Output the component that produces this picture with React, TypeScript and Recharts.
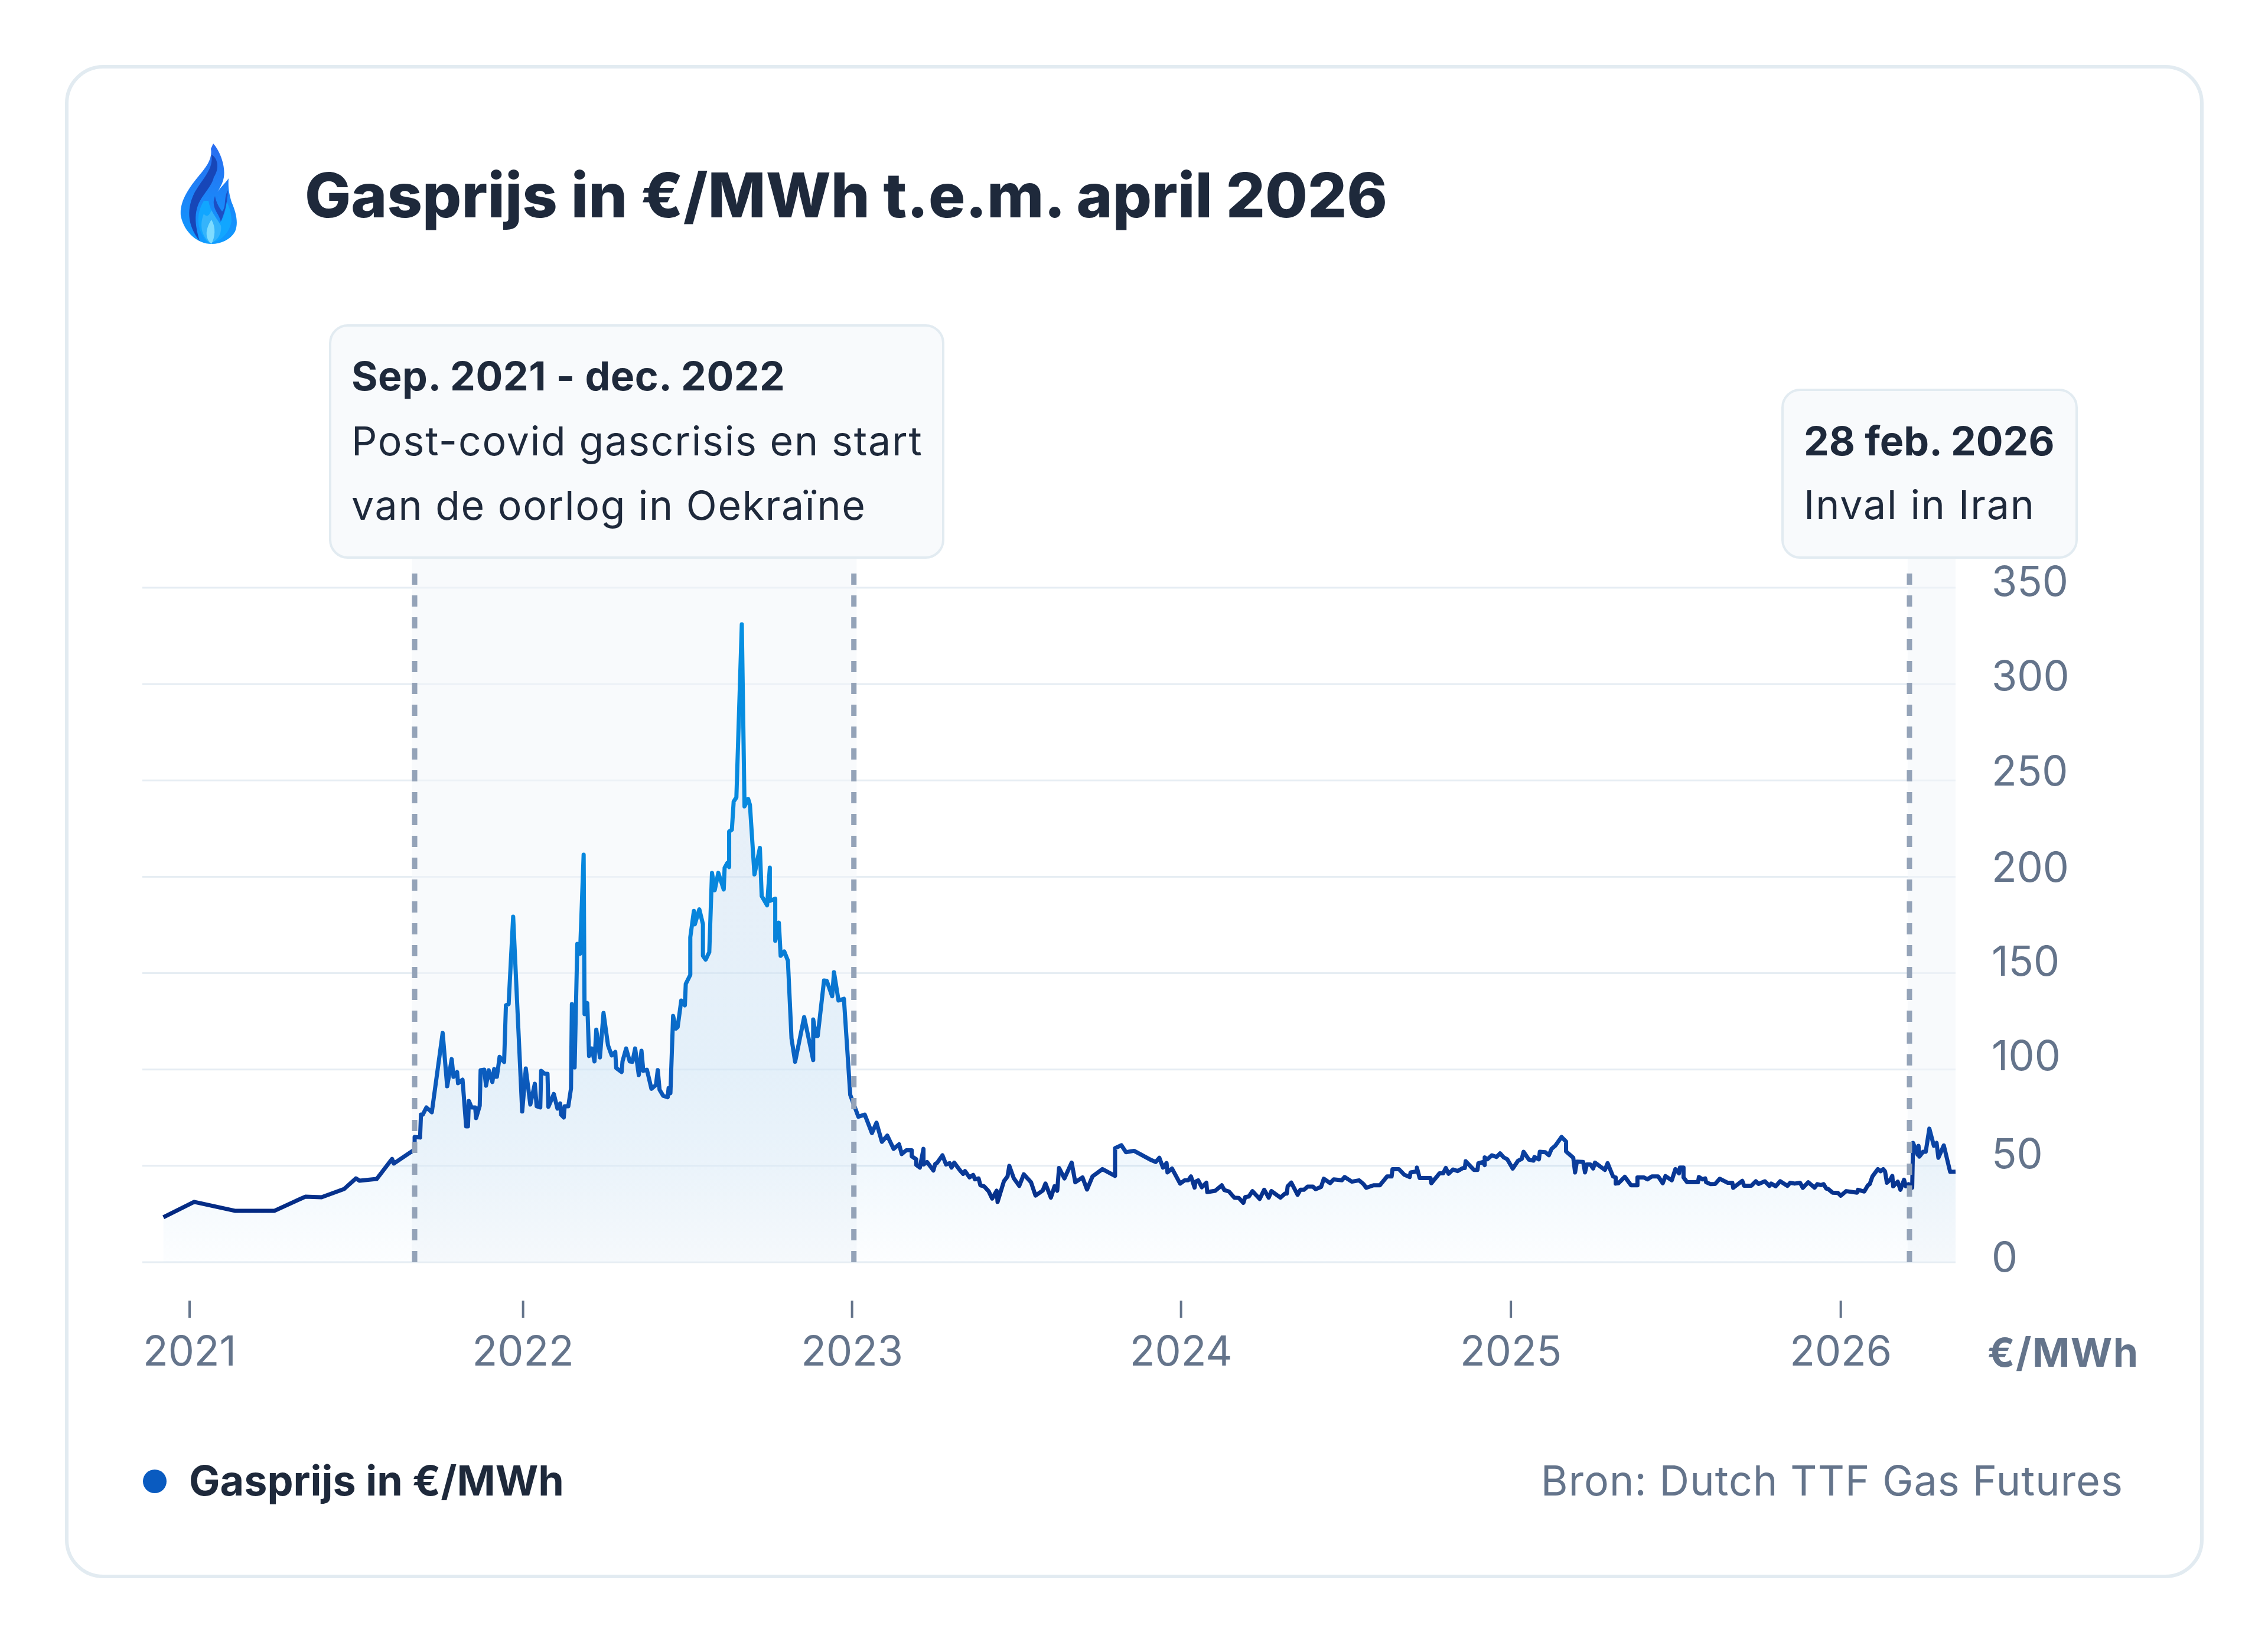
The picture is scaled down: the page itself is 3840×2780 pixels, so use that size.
import {
  ComposedChart, Area, XAxis, YAxis, CartesianGrid, ReferenceArea, ReferenceLine,
} from 'recharts'

// days since 1 Jan 2021
const days = [
  -29, 5, 50, 94, 128, 146, 171, 184, 188, 207, 224, 226, 249, 249, 255,
  256, 258, 262, 268, 280, 285, 290, 292, 296, 297, 302, 306, 308, 309, 312,
  316, 317, 321, 322, 326, 328, 331, 335, 337, 339, 340, 343, 348, 350, 353,
  358, 368, 372, 377, 382, 384, 388, 389, 393, 396, 397, 403, 407, 410, 411,
  414, 415, 419, 422, 423, 426, 429, 432, 436, 437, 440, 442, 445, 448, 450,
  454, 458, 463, 467, 471, 472, 478, 479, 483, 487, 490, 493, 497, 500, 502,
  506, 511, 516, 518, 520, 524, 529, 530, 532, 535, 538, 540, 544, 548, 549,
  554, 554, 558, 559, 564, 568, 568, 571, 575, 578, 581, 585, 591, 592, 595,
  597, 597, 600, 602, 605, 611, 614, 618, 620, 625, 631, 633, 639, 642, 642,
  648, 648, 652, 654, 658, 662, 666, 670, 680, 690, 690, 693, 695, 702, 705,
  711, 713, 718, 724, 731, 740, 747, 755, 760, 766, 772, 779, 785, 788, 793,
  799, 799, 804, 804, 808, 812, 812, 816, 823, 825, 827, 833, 837, 841, 843,
  846, 853, 856, 858, 863, 867, 869, 873, 875, 879, 884, 888, 893, 894, 901,
  905, 907, 912, 918, 923, 931, 936, 944, 947, 953, 957, 960, 962, 968, 976,
  980, 988, 993, 999, 1010, 1024, 1024, 1031, 1036, 1045, 1064, 1069, 1073, 1077, 1081,
  1082, 1087, 1096, 1101, 1105, 1108, 1112, 1113, 1116, 1120, 1125, 1126, 1135, 1142, 1145,
  1150, 1156, 1161, 1166, 1168, 1172, 1176, 1184, 1189, 1194, 1197, 1207, 1212, 1214, 1215,
  1219, 1226, 1229, 1233, 1237, 1243, 1246, 1252, 1255, 1262, 1266, 1275, 1278, 1286, 1294,
  1299, 1302, 1310, 1317, 1325, 1330, 1331, 1338, 1344, 1350, 1351, 1358, 1358, 1361, 1373,
  1374, 1383, 1387, 1390, 1393, 1398, 1403, 1409, 1411, 1412, 1421, 1425, 1426, 1431, 1433,
  1433, 1436, 1441, 1446, 1450, 1454, 1458, 1464, 1470, 1474, 1476, 1482, 1487, 1488, 1493,
  1494, 1500, 1504, 1507, 1511, 1518, 1523, 1523, 1531, 1533, 1535, 1542, 1544, 1546, 1550,
  1553, 1555, 1566, 1569, 1575, 1578, 1578, 1581, 1588, 1595, 1602, 1602, 1609, 1613, 1618,
  1625, 1630, 1633, 1640, 1644, 1648, 1649, 1653, 1653, 1657, 1669, 1670, 1674, 1677, 1678,
  1683, 1688, 1693, 1702, 1707, 1708, 1718, 1720, 1728, 1733, 1736, 1743, 1748, 1750, 1755,
  1760, 1768, 1771, 1776, 1782, 1785, 1791, 1798, 1801, 1805, 1808, 1811, 1813, 1818, 1824,
  1827, 1833, 1845, 1846, 1853, 1857, 1859, 1862, 1868, 1871, 1874, 1876, 1878, 1882, 1884,
  1885, 1890, 1893, 1897, 1899, 1902, 1906, 1907, 1912, 1913, 1914, 1918, 1921, 1925, 1930,
  1933, 1935, 1941, 1948, 1954,
]

// €/MWh, same order as days
const prices = [
  23.3, 31.3, 26.7, 26.7, 34, 33.7, 38, 43.5, 42.3, 43.2, 53.6, 51.2, 58.5, 65, 64.7,
  76.6, 76.6, 80.3, 77.8, 119, 91.3, 105.4, 96.2, 98.7, 92.9, 94.7, 70.5, 70.5, 83.7, 80.3,
  80.3, 74.8, 81.2, 99.6, 99.9, 91.6, 99.6, 93.5, 100.2, 96.2, 96.2, 106.6, 103.9, 133.3, 133.9,
  179.3, 78.2, 100.5, 81.8, 92.6, 80.9, 80.3, 99.3, 97.8, 97.8, 80.6, 87.3, 79.7, 82.4, 76.6,
  75.1, 80.9, 80.9, 90.1, 133.9, 101.1, 165.2, 160, 211.5, 128.7, 134.5, 107, 110.9, 104.2, 120.7,
  106.3, 129.3, 112.5, 107.3, 109.1, 100.8, 98.7, 104.2, 110.9, 104.2, 104, 110.9, 97.1, 109.7, 99.3,
  99.9, 90, 92, 99.7, 89.5, 86.4, 85.6, 90.3, 87.7, 127.8, 121.2, 122, 135.8, 133.3, 144.4,
  149.1, 168.6, 182.3, 175.3, 183.1, 175.4, 159, 157, 160.9, 202, 193, 202, 193.4, 204.7, 207.2,
  205, 223.5, 224.4, 239, 241.2, 331, 236.5, 240.4, 237.3, 201.2, 215, 190, 185.2, 204.7, 187.5,
  188.6, 166.8, 176.2, 159, 161.2, 156.5, 116.1, 104, 127.2, 104.9, 126, 117.4, 117.4, 146.2, 146,
  138, 150.5, 135.8, 136.7, 86.8, 75.5, 76.6, 67, 72.4, 62.5, 65.7, 58.8, 61.2, 56.1, 58.1,
  58.1, 55, 53.4, 50.5, 49.1, 58.8, 50.7, 52, 47.6, 51, 51.5, 55.5, 50.7, 51.4, 49.1,
  51.7, 47.3, 45.8, 47.3, 44, 45.3, 43, 43.5, 39.9, 39.4, 36.9, 33, 37.1, 31.3, 42,
  44.5, 50, 43.5, 39.6, 45.6, 41.5, 34.6, 37.2, 40.8, 33.5, 39.4, 37.1, 48.9, 43.5, 51.7,
  41.5, 44, 37.7, 44.5, 48.3, 44.8, 59.2, 60.7, 57.1, 57.8, 53, 52, 54.2, 49.1, 51.4,
  46.6, 48.6, 40.8, 42.5, 42.5, 44.5, 38.7, 41.8, 42.5, 38.9, 41.2, 36.4, 37.1, 39.9, 37.4,
  36.7, 33.5, 33.3, 30.8, 33.8, 34.1, 36.9, 32.8, 37.6, 33.5, 36.9, 33.5, 35.6, 35.6, 39.4,
  41.3, 35, 37.6, 37.6, 39.2, 39.2, 37.9, 39.1, 43.3, 41, 43, 42.5, 44.2, 41.8, 42.5,
  40.5, 38.6, 39.9, 39.9, 44.5, 44.5, 48.3, 48.3, 45.4, 44.2, 46.6, 47.1, 49.1, 43.7, 43.7,
  41, 46.1, 46.1, 48.9, 45.9, 48.1, 47.3, 48.9, 48.9, 52.4, 47.9, 47.9, 51.4, 52, 50.4,
  54.4, 53.4, 55.5, 54.6, 56.5, 54.4, 53.4, 48.6, 52.7, 53.6, 57.3, 53.2, 52.7, 54.6, 53.4,
  57.3, 57.1, 55.5, 58.8, 60.4, 65, 62.6, 57.5, 54.2, 46.6, 52.2, 52, 46.6, 50.7, 50.7,
  48.6, 51.7, 47.9, 51.4, 44.5, 44, 40.8, 41, 44.3, 39.9, 39.9, 44, 44, 43, 44.5,
  44.5, 41, 44.7, 42.5, 48.3, 46.1, 49.1, 49.1, 44, 41.5, 41.5, 44.2, 43, 43.5, 41.5,
  40.5, 40.6, 43.3, 41.2, 41.2, 38.6, 42.2, 39.7, 39.7, 42, 40.6, 42, 39.6, 40.8, 39.4,
  42, 39.6, 41.2, 40.8, 41.2, 38.6, 41.5, 38.7, 40.5, 40, 40.5, 38.2, 38, 36.1, 35.9,
  34.5, 36.9, 36.1, 37.6, 36.7, 39.9, 40.5, 44.5, 48.3, 47.2, 48.3, 47.1, 41.2, 43, 44.8,
  39.4, 41.8, 37.6, 42.8, 39.4, 40.5, 38.7, 61.9, 55.8, 60.4, 54.8, 57.3, 57.3, 69.3, 60.4,
  61.9, 54.2, 60.6, 46.9, 47,
]

const yearTicks = [0, 369, 733, 1097, 1462, 1827]
const yearLabels = ['2021', '2022', '2023', '2024', '2025', '2026']
const priceTicks = [0, 50, 100, 150, 200, 250, 300, 350]

// shaded periods and event markers, in days
const periods = [[246, 738], [1901, 1954]]
const eventDays = [249, 735, 1903]

const data = days.map((day, i) => ({ day, price: prices[i] }))

const FONT = 'Inter, "Noto Sans", sans-serif'
const DARK = '#1e293b'
const MUTED = '#64748b'

// the labels in the original don't sit at a constant distance from their gridline
const priceLabelShift: Record<number, number> = {
  0: 16, 50: 4, 100: 1, 150: 4, 200: 9, 250: 9, 300: 11, 350: 14,
}

const YearTick = ({ x, payload }: any) => {
  const i = yearTicks.indexOf(payload.value)
  return (
    <g>
      <line x1={x} x2={x} y1={2202} y2={2231} stroke={MUTED} strokeWidth={4} />
      <text x={x} y={2312} textAnchor="middle" fontSize={70} fontFamily={FONT} fill={MUTED}>
        {yearLabels[i]}
      </text>
    </g>
  )
}

const PriceTick = ({ y, payload }: any) => (
  <text
    x={3372}
    y={y + priceLabelShift[payload.value]}
    textAnchor="start"
    fontSize={70}
    fontFamily={FONT}
    fill={MUTED}
  >
    {payload.value}
  </text>
)

const Flame = () => (
  <g>
    <defs>
      <linearGradient id="flameOuter" x1="0" y1="0" x2="0" y2="1">
        <stop offset="0" stopColor="#2a6cf0" />
        <stop offset="1" stopColor="#0f9bff" />
      </linearGradient>
    </defs>
    <path
      d="M361 243 C372 255 382 280 379 300 C377 312 370 322 364 332 C370 320 380 312 387 302 C386 318 388 328 392 342 C400 360 404 378 398 392 C390 406 374 413 358 413 C336 413 312 395 306 365 C304 340 320 318 338 296 C350 282 360 268 357 252 Z"
      fill="url(#flameOuter)"
    />
    <path
      d="M358 262 C362 285 345 300 330 325 C316 352 316 380 338 408 C330 380 326 355 345 330 C352 320 360 310 362 300 C374 282 366 265 358 262 Z"
      fill="#1746b8"
    />
    <path
      d="M364 332 C356 352 372 362 374 376 C380 360 385 345 386 322 C378 335 384 350 376 358 C370 350 366 342 364 332 Z"
      fill="#1c4fc4"
    />
    <path
      d="M345 340 C330 365 334 392 352 411 C372 411 388 396 392 375 C392 360 388 350 384 342 C382 362 376 372 372 378 C366 368 356 358 353 340 Z"
      fill="#11a6ff"
    />
    <path
      d="M345 362 C336 385 344 402 356 412 C368 408 376 396 374 382 C368 372 362 364 358 356 C354 366 350 368 345 362 Z"
      fill="#35b4fb"
    />
    <path d="M358 372 C366 385 364 402 358 413 C348 405 346 390 358 372 Z" fill="#7edcff" />
  </g>
)

const Backdrop = () => (
  <svg width={3840} height={2780} style={{ position: 'absolute', left: 0, top: 0 }}>
    <rect x={113} y={113} width={3615} height={2556} rx={62} fill="#fff" stroke="#e2ebf1" strokeWidth={6} />
    <Flame />
    <text x={516} y={368} fontSize={104} fontWeight={800} fontFamily={FONT} fill={DARK}>
      Gasprijs in €/MWh t.e.m. april 2026
    </text>

    <rect x={559} y={551} width={1038} height={393} rx={30} fill="#f8fafc" stroke="#e2ebf1" strokeWidth={4} />
    <text x={595} y={661} fontSize={68} fontWeight={700} letterSpacing={0.5} fontFamily={FONT} fill={DARK}>Sep. 2021 - dec. 2022</text>
    <text x={595} y={771} fontSize={68} letterSpacing={1.8} fontFamily={FONT} fill={DARK}>Post-covid gascrisis en start</text>
    <text x={595} y={880} fontSize={68} letterSpacing={1.7} fontFamily={FONT} fill={DARK}>van de oorlog in Oekraïne</text>

    <rect x={3018} y={660} width={498} height={284} rx={30} fill="#f8fafc" stroke="#e2ebf1" strokeWidth={4} />
    <text x={3054} y={771} fontSize={68} fontWeight={700} fontFamily={FONT} fill={DARK}>28 feb. 2026</text>
    <text x={3054} y={879} fontSize={68} letterSpacing={1.9} fontFamily={FONT} fill={DARK}>Inval in Iran</text>

    <text x={3365} y={2314} fontSize={68} fontWeight={700} letterSpacing={1.5} fontFamily={FONT} fill={MUTED}>€/MWh</text>

    <circle cx={262} cy={2508} r={20} fill="#0a5bc0" />
    <text x={320} y={2532} fontSize={70} fontWeight={700} fontFamily={FONT} fill={DARK}>Gasprijs in €/MWh</text>
    <text x={3595} y={2532} textAnchor="end" fontSize={70} letterSpacing={1.1} fontFamily={FONT} fill={MUTED}>Bron: Dutch TTF Gas Futures</text>
  </svg>
)

export default function App() {
  return (
    <div style={{ position: 'absolute', left: 0, top: 0, width: 3840, height: 2780, background: '#fff' }}>
      <Backdrop />
      <div style={{ position: 'absolute', left: 0, top: 0 }}>
        <ComposedChart
          width={3840}
          height={2780}
          data={data}
          margin={{ top: 995, right: 229, left: 241, bottom: 443 }}
        >
          <defs>
            <linearGradient id="lineGrad" x1="0" y1="0" x2="0" y2="1">
              <stop offset="0" stopColor="#0690e2" />
              <stop offset="0.5" stopColor="#0785dc" />
              <stop offset="0.68" stopColor="#0a6bc8" />
              <stop offset="0.75" stopColor="#0b5ec0" />
              <stop offset="0.85" stopColor="#0b4aab" />
              <stop offset="0.92" stopColor="#0a3a98" />
              <stop offset="1" stopColor="#02277f" />
            </linearGradient>
            <linearGradient id="areaGrad" x1="0" y1="0" x2="0" y2="1">
              <stop offset="0" stopColor="#3b6fc4" stopOpacity={0.13} />
              <stop offset="0.7" stopColor="#0a84de" stopOpacity={0.14} />
              <stop offset="0.85" stopColor="#0a84de" stopOpacity={0.095} />
              <stop offset="1" stopColor="#0a84de" stopOpacity={0.02} />
            </linearGradient>
          </defs>
          <CartesianGrid vertical={false} stroke="#e6edf3" strokeWidth={3} />
          <XAxis
            type="number"
            dataKey="day"
            domain={[-52.3, 1954]}
            ticks={yearTicks}
            tick={<YearTick />}
            axisLine={false}
            tickLine={false}
            height={200}
            interval={0}
          />
          <YAxis
            orientation="right"
            domain={[0, 350]}
            ticks={priceTicks}
            tick={<PriceTick />}
            axisLine={false}
            tickLine={false}
            width={300}
            interval={0}
          />
          {periods.map(([from, to]) => (
            <ReferenceArea
              key={from}
              x1={from}
              x2={to}
              y1={0}
              y2={365}
              ifOverflow="visible"
              fill="#f1f5f9"
              fillOpacity={0.5}
              stroke="none"
            />
          ))}
          {eventDays.map(d => (
            <ReferenceLine
              key={d}
              segment={[{ x: d, y: 0 }, { x: d, y: 360 }]}
              ifOverflow="visible"
              stroke="#94a3b8"
              strokeWidth={9}
              strokeDasharray="19 18"
            />
          ))}
          <Area
            type="linear"
            dataKey="price"
            stroke="url(#lineGrad)"
            strokeWidth={7}
            strokeLinejoin="round"
            fill="url(#areaGrad)"
            dot={false}
            activeDot={false}
            isAnimationActive={false}
          />
        </ComposedChart>
      </div>
    </div>
  )
}
